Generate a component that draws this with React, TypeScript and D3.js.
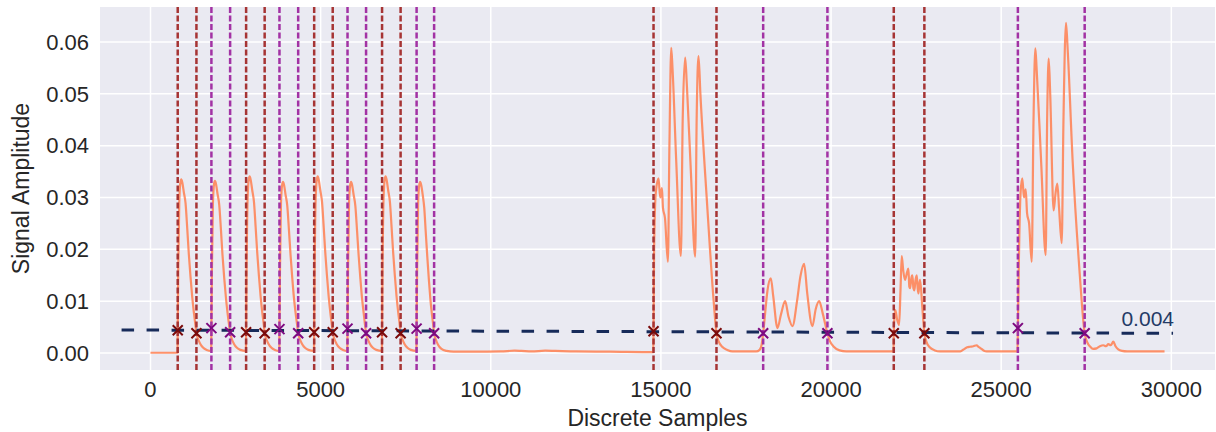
import React, { useEffect, useRef } from 'react';
import * as d3 from 'd3';

// signal: [sample, amplitude]
const pulseTrain: [number, number][] = [
  [0, 0.00005], [795, 0.00005],
  [800, 0.0044], [815, 0.016], [845, 0.029], [880, 0.033], [905, 0.0335], [935, 0.0329], [980, 0.031], [1030, 0.0289], [1080, 0.024], [1125, 0.0192], [1175, 0.0148], [1225, 0.0109], [1275, 0.0078], [1320, 0.0054], [1350, 0.0038], [1400, 0.0027], [1460, 0.0018], [1550, 0.001], [1650, 0.0006], [1785, 0.0004],
  [1790, 0.0048], [1805, 0.016], [1835, 0.029], [1870, 0.0327], [1895, 0.0332], [1925, 0.0326], [1970, 0.0307], [2020, 0.0286], [2070, 0.0238], [2115, 0.019], [2165, 0.0146], [2215, 0.0108], [2265, 0.0077], [2310, 0.0054], [2340, 0.004], [2390, 0.0027], [2450, 0.0018], [2540, 0.001], [2640, 0.0006], [2805, 0.0004],
  [2810, 0.004], [2825, 0.017], [2855, 0.03], [2890, 0.0336], [2915, 0.0341], [2945, 0.0334], [2990, 0.0314], [3040, 0.0292], [3090, 0.0243], [3135, 0.0195], [3185, 0.015], [3235, 0.011], [3285, 0.0078], [3330, 0.0054], [3355, 0.0038], [3405, 0.0027], [3465, 0.0018], [3555, 0.001], [3655, 0.0006], [3785, 0.0004],
  [3790, 0.0046], [3805, 0.016], [3835, 0.029], [3870, 0.0325], [3895, 0.033], [3925, 0.0324], [3970, 0.0305], [4020, 0.0284], [4070, 0.0236], [4115, 0.019], [4165, 0.0146], [4215, 0.0107], [4265, 0.0077], [4310, 0.0054], [4340, 0.0038], [4390, 0.0027], [4450, 0.0018], [4540, 0.001], [4640, 0.0006], [4805, 0.0004],
  [4810, 0.004], [4825, 0.017], [4855, 0.03], [4890, 0.0336], [4915, 0.0341], [4945, 0.0334], [4990, 0.0314], [5040, 0.0292], [5090, 0.0243], [5135, 0.0195], [5185, 0.015], [5235, 0.011], [5285, 0.0078], [5330, 0.0054], [5355, 0.004], [5405, 0.0027], [5465, 0.0018], [5555, 0.001], [5655, 0.0006], [5785, 0.0004],
  [5790, 0.0047], [5805, 0.016], [5835, 0.029], [5870, 0.0325], [5895, 0.033], [5925, 0.0324], [5970, 0.0305], [6020, 0.0284], [6070, 0.0236], [6115, 0.019], [6165, 0.0146], [6215, 0.0107], [6265, 0.0077], [6305, 0.0054], [6335, 0.0038], [6385, 0.0027], [6445, 0.0018], [6535, 0.001], [6635, 0.0006], [6800, 0.0004],
  [6805, 0.004], [6820, 0.017], [6850, 0.03], [6885, 0.0336], [6910, 0.0341], [6940, 0.0334], [6985, 0.0314], [7035, 0.0292], [7085, 0.0243], [7130, 0.0195], [7180, 0.015], [7230, 0.011], [7280, 0.0078], [7325, 0.0054], [7350, 0.0038], [7400, 0.0027], [7460, 0.0018], [7550, 0.001], [7650, 0.0006], [7815, 0.0004],
  [7820, 0.0047], [7835, 0.016], [7865, 0.029], [7900, 0.0325], [7925, 0.033], [7955, 0.0324], [8000, 0.0305], [8045, 0.028], [8090, 0.0232], [8135, 0.0185], [8180, 0.0142], [8225, 0.0104], [8270, 0.0075], [8310, 0.0053], [8335, 0.0038], [8385, 0.0026], [8450, 0.0016], [8550, 0.0008], [8700, 0.0004], [8900, 0.00025],
];

const quietStretch: [number, number][] = [
  [9500, 0.00025], [10300, 0.0003], [10700, 0.00045], [10900, 0.0004], [11200, 0.0003], [11600, 0.00045], [11900, 0.0004], [12500, 0.0003], [13500, 0.00025], [14775, 0.00015],
];

const burstOne: [number, number][] = [
  [14783, 0.0042], [14800, 0.02], [14850, 0.031], [14930, 0.0337], [14980, 0.03], [15030, 0.0318], [15060, 0.028], [15120, 0.026], [15205, 0.0176], [15250, 0.04], [15303, 0.0589], [15340, 0.055], [15450, 0.037], [15587, 0.0187], [15640, 0.045], [15713, 0.057], [15760, 0.052], [15880, 0.035], [16007, 0.0186], [16050, 0.045], [16105, 0.0573], [16160, 0.05], [16350, 0.0295], [16550, 0.01], [16633, 0.0038], [16700, 0.0022], [16800, 0.0012], [16950, 0.0006], [17100, 0.0003], [17800, 0.0003], [17900, 0.0006], [17960, 0.0016],
];

const burstTwo: [number, number][] = [
  [18005, 0.0038], [18060, 0.0075], [18130, 0.012], [18230, 0.0144], [18300, 0.011], [18425, 0.0048], [18530, 0.0075], [18650, 0.01], [18750, 0.007], [18866, 0.0052], [19000, 0.01], [19100, 0.0148], [19208, 0.0172], [19300, 0.0115], [19452, 0.0052], [19550, 0.0085], [19650, 0.01], [19760, 0.0075], [19893, 0.0038], [19960, 0.0024], [20080, 0.0012], [20250, 0.0005], [20450, 0.0003], [21835, 0.0003],
];

const burstThree: [number, number][] = [
  [21843, 0.0038], [21870, 0.0075], [21890, 0.0083], [21940, 0.0065], [22000, 0.0054], [22040, 0.012], [22077, 0.0187], [22120, 0.016], [22174, 0.0141], [22230, 0.0155], [22272, 0.0163], [22300, 0.0128], [22322, 0.0125], [22360, 0.0145], [22390, 0.015], [22420, 0.0125], [22449, 0.0121], [22480, 0.014], [22518, 0.015], [22545, 0.0125], [22567, 0.0115], [22590, 0.013], [22616, 0.0141], [22680, 0.009], [22742, 0.0038], [22800, 0.0022], [22900, 0.0011], [23050, 0.0005], [23200, 0.0003], [23800, 0.0003], [23900, 0.0007], [24000, 0.0011], [24085, 0.0012], [24180, 0.0013], [24280, 0.0015], [24330, 0.0012], [24378, 0.001], [24480, 0.0005], [24574, 0.0003], [25480, 0.0003],
];

const burstFour: [number, number][] = [
  [25490, 0.0048], [25520, 0.018], [25570, 0.031], [25620, 0.0337], [25670, 0.03], [25720, 0.0316], [25760, 0.027], [25820, 0.025], [25896, 0.0176], [25950, 0.045], [26003, 0.0588], [26040, 0.055], [26180, 0.036], [26307, 0.0189], [26350, 0.045], [26396, 0.0568], [26440, 0.05], [26540, 0.0275], [26600, 0.031], [26650, 0.0327], [26700, 0.028], [26778, 0.0212], [26830, 0.045], [26904, 0.0637], [26950, 0.059], [27100, 0.037], [27300, 0.016], [27453, 0.0038], [27520, 0.0022], [27620, 0.0012], [27700, 0.0008], [27805, 0.0009], [27900, 0.0013], [28000, 0.0015], [28080, 0.0013], [28150, 0.0017], [28220, 0.0015], [28295, 0.0022], [28360, 0.0013], [28440, 0.0007], [28550, 0.0004], [28700, 0.0003], [29800, 0.0003],
];

const redLines = [800, 1350, 2810, 3355, 4810, 5355, 6805, 7350, 14783, 16633, 21843, 22742];
const redMarks = [0.0044, 0.0038, 0.004, 0.0038, 0.004, 0.004, 0.004, 0.0038, 0.0042, 0.0038, 0.0038, 0.0038];
const purpleLines = [1790, 2340, 3790, 4340, 5790, 6335, 7820, 8335, 18005, 19893, 25490, 27453];
const purpleMarks = [0.0048, 0.004, 0.0046, 0.0038, 0.0047, 0.0038, 0.0047, 0.0038, 0.0038, 0.0038, 0.0048, 0.0038];

const thresholdSamples = [-850, 30050];
const thresholdValues = [0.00444, 0.0038];
const thresholdLabel = '0.004';

const xTicks = [0, 5000, 10000, 15000, 20000, 25000, 30000];
const yTicks = [0, 0.01, 0.02, 0.03, 0.04, 0.05, 0.06];

const App = () => {
  const svgRef = useRef<SVGSVGElement>(null);

  useEffect(() => {
    const width = 1216;
    const height = 432;
    const left = 100, right = 1215, top = 7, bottom = 370;
    const font = '"Liberation Sans", Arial, sans-serif';

    const x = d3.scaleLinear().domain([-1484, 31283]).range([left, right]);
    const y = d3.scaleLinear().domain([-0.00328, 0.06676]).range([bottom, top]);

    const svg = d3.select(svgRef.current)
      .attr('width', width)
      .attr('height', height)
      .attr('viewBox', [0, 0, width, height].join(' '));
    svg.selectAll('*').remove();

    svg.append('defs').append('clipPath').attr('id', 'plot-clip')
      .append('rect').attr('x', left).attr('y', top).attr('width', right - left).attr('height', bottom - top);

    svg.append('rect')
      .attr('x', left).attr('y', top).attr('width', right - left).attr('height', bottom - top)
      .attr('fill', '#eaeaf2');

    // grid
    svg.append('g').selectAll('line').data(xTicks).join('line')
      .attr('x1', d => x(d)).attr('x2', d => x(d)).attr('y1', top).attr('y2', bottom)
      .attr('stroke', '#fff').attr('stroke-width', 1.5);
    svg.append('g').selectAll('line').data(yTicks).join('line')
      .attr('x1', left).attr('x2', right).attr('y1', d => y(d)).attr('y2', d => y(d))
      .attr('stroke', '#fff').attr('stroke-width', 1.5);

    const plot = svg.append('g').attr('clip-path', 'url(#plot-clip)');

    const signal = [...pulseTrain, ...quietStretch, ...burstOne, ...burstTwo, ...burstThree, ...burstFour];
    const line = d3.line<[number, number]>().x(d => x(d[0])).y(d => y(d[1])).curve(d3.curveMonotoneX);

    plot.append('path')
      .attr('d', line(signal))
      .attr('fill', 'none')
      .attr('stroke', '#ff7f50')
      .attr('stroke-opacity', 0.85)
      .attr('stroke-width', 2.2)
      .attr('stroke-linejoin', 'round');

    // vertical crossing lines
    const vlines = (data: number[], color: string) =>
      plot.append('g').selectAll('line').data(data).join('line')
        .attr('x1', d => x(d)).attr('x2', d => x(d)).attr('y1', top).attr('y2', bottom)
        .attr('stroke', color).attr('stroke-width', 2.5).attr('stroke-dasharray', '6 2.5');
    vlines(redLines, '#a63434');
    vlines(purpleLines, '#a232a4');

    // threshold
    plot.append('line')
      .attr('x1', x(thresholdSamples[0])).attr('x2', x(thresholdSamples[1]))
      .attr('y1', y(thresholdValues[0])).attr('y2', y(thresholdValues[1]))
      .attr('stroke', '#172b5a').attr('stroke-width', 3).attr('stroke-dasharray', '12.5 12.5');

    const marks = (xs: number[], vs: number[], color: string) =>
      plot.append('g').selectAll('path').data(xs).join('path')
        .attr('transform', (d, i) => `translate(${x(d)},${y(vs[i])})`)
        .attr('d', 'M-5,-5L5,5M5,-5L-5,5')
        .attr('stroke', color).attr('stroke-width', 2);
    marks(redLines, redMarks, '#7a0a0a');
    marks(purpleLines, purpleMarks, '#7d0a80');

    svg.append('text')
      .attr('x', 1174).attr('y', 326)
      .attr('text-anchor', 'end')
      .attr('font-family', font).attr('font-size', 21)
      .attr('fill', '#243a66')
      .text(thresholdLabel);

    // tick labels
    svg.append('g').selectAll('text').data(xTicks).join('text')
      .attr('x', d => x(d)).attr('y', 397)
      .attr('text-anchor', 'middle')
      .attr('font-family', font).attr('font-size', 22).attr('fill', '#262626')
      .text(d => String(d));
    svg.append('g').selectAll('text').data(yTicks).join('text')
      .attr('x', 89).attr('y', d => y(d)).attr('dy', '0.35em')
      .attr('text-anchor', 'end')
      .attr('font-family', font).attr('font-size', 22).attr('fill', '#262626')
      .text(d => d.toFixed(2));

    svg.append('text')
      .attr('x', (left + right) / 2).attr('y', 426)
      .attr('text-anchor', 'middle')
      .attr('font-family', font).attr('font-size', 23).attr('fill', '#262626')
      .text('Discrete Samples');
    svg.append('text')
      .attr('transform', `translate(29,${(top + bottom) / 2}) rotate(-90)`)
      .attr('text-anchor', 'middle')
      .attr('font-family', font).attr('font-size', 23).attr('fill', '#262626')
      .text('Signal Amplitude');
  }, []);

  return <svg ref={svgRef} style={{ position: 'absolute', left: 0, top: 0 }}></svg>;
};

export default App;
